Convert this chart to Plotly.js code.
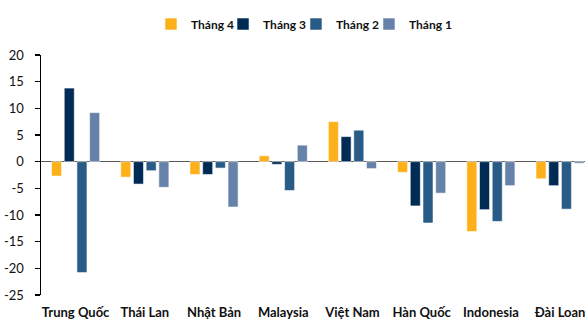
<!DOCTYPE html>
<html>
<head>
<meta charset="utf-8">
<script src="https://cdn.plot.ly/plotly-3.0.1.min.js"></script>
<style>html,body{margin:0;padding:0;background:#fff;}#chart{width:585px;height:319px;}</style>
</head>
<body>
<div id="chart"></div>
<script>
const categories = ["Trung Quốc", "Thái Lan", "Nhật Bản", "Malaysia", "Việt Nam", "Hàn Quốc", "Indonesia", "Đài Loan"];
const seriesNames = ["Tháng 4", "Tháng 3", "Tháng 2", "Tháng 1"];
const thang4 = [-2.7, -2.9, -2.4, 1.1, 7.5, -2.0, -13.1, -3.2];
const thang3 = [13.8, -4.2, -2.4, -0.5, 4.7, -8.3, -9.0, -4.5];
const thang2 = [-20.8, -1.7, -1.2, -5.4, 5.9, -11.5, -11.2, -8.9];
const thang1 = [9.2, -4.8, -8.5, 3.1, -1.3, -5.9, -4.5, -0.3];
const yTicks = [20, 15, 10, 5, 0, -5, -10, -15, -20, -25];
const colors = ["#FDB01A", "#002B55", "#285B86", "#6682A8"];

const seriesValues = [thang4, thang3, thang2, thang1];
const legendIds = ["legend", "legend2", "legend3", "legend4"];
const legendX = [0.2022, 0.3346, 0.4687, 0.6029];

const traces = seriesValues.map((vals, i) => ({
  type: "bar",
  name: seriesNames[i],
  x: categories,
  y: vals,
  legend: legendIds[i],
  marker: {color: colors[i], line: {color: "rgba(255,255,255,0.55)", width: 1}},
  hoverinfo: "skip"
}));

const layout = {
  width: 585, height: 319,
  margin: {l: 41, r: 0, t: 55, b: 24, autoexpand: false},
  paper_bgcolor: "#fff", plot_bgcolor: "#fff",
  font: {family: "Lato, 'Open Sans', sans-serif", color: "#1a1a1a", size: 12},
  barmode: "group",
  bargap: 0.266,
  bargroupgap: 0.21,
  showlegend: true,
  xaxis: {
    type: "category",
    range: [-0.5, 7.36],
    showgrid: false, zeroline: false, showline: false,
    ticks: "", ticklabelstandoff: 8,
    tickfont: {family: "Lato, sans-serif", size: 13, color: "#111", weight: "bold"},
    fixedrange: true
  },
  yaxis: {
    range: [-25, 20],
    tickvals: yTicks,
    ticktext: yTicks.map(String),
    showgrid: false,
    zeroline: true, zerolinecolor: "#595959", zerolinewidth: 1.5,
    showline: true, linecolor: "#000", linewidth: 1.5,
    ticks: "outside", ticklen: 5, tickwidth: 1.5, tickcolor: "#000",
    ticklabelstandoff: 8,
    tickfont: {family: "Lato, sans-serif", size: 13, color: "#111"},
    fixedrange: true
  }
};

legendIds.forEach((id, i) => {
  layout[id] = {
    orientation: "h", x: legendX[i], xanchor: "left", y: 1.129, yanchor: "middle",
    font: {family: "Lato, sans-serif", size: 12, color: "#111", weight: "bold"},
    itemwidth: 30, bgcolor: "rgba(0,0,0,0)", itemclick: false
  };
});

Plotly.newPlot("chart", traces, layout, {displayModeBar: false, staticPlot: true});
</script>
</body>
</html>
